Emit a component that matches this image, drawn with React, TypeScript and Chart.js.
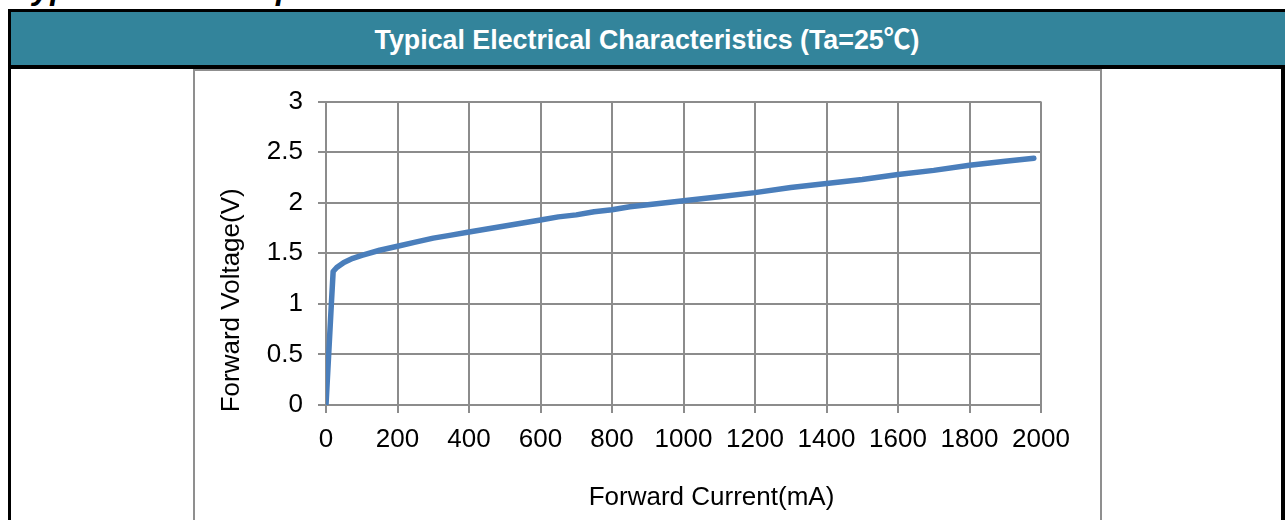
import React, { useEffect, useRef } from "react";
import { Chart, registerables } from "chart.js";

Chart.register(...registerables);

// Data
const currentMA: number[] = [
  0, 15, 20, 30, 50, 75, 100, 150, 200, 250, 300, 350, 400, 450, 500, 550, 600, 650,
  700, 750, 800, 850, 900, 950, 1000, 1100, 1200, 1300, 1400, 1500, 1600, 1700, 1800,
  1900, 1980,
];
const forwardVoltage: number[] = [
  0, 1.0, 1.32, 1.36, 1.41, 1.45, 1.48, 1.53, 1.57, 1.61, 1.65, 1.68, 1.71, 1.74, 1.77,
  1.8, 1.83, 1.86, 1.88, 1.91, 1.93, 1.96, 1.98, 2.0, 2.02, 2.06, 2.1, 2.15, 2.19, 2.23,
  2.28, 2.32, 2.37, 2.41, 2.44,
];
const xTicks: number[] = [0, 200, 400, 600, 800, 1000, 1200, 1400, 1600, 1800, 2000];
const yTicks: number[] = [0, 0.5, 1, 1.5, 2, 2.5, 3];

const headerTitle = "Typical Electrical Characteristics (Ta=25℃)";
const pageHeading = "Typical Electro-Optical Characteristics Curves";
const xTitle = "Forward Current(mA)";
const yTitle = "Forward Voltage(V)";

const FONT = '"Liberation Sans", Arial, "Noto Sans CJK SC", sans-serif';

export default function App() {
  const canvasRef = useRef<HTMLCanvasElement | null>(null);

  useEffect(() => {
    const canvas = canvasRef.current;
    if (!canvas) return;

    const titlesPlugin = {
      id: "axisTitlesCustom",
      afterDraw(chart: any) {
        const { ctx, chartArea } = chart;
        ctx.save();
        ctx.fillStyle = "#000";
        ctx.font = `26px ${FONT}`;
        ctx.textAlign = "center";
        ctx.textBaseline = "middle";
        ctx.fillText(xTitle, (chartArea.left + chartArea.right) / 2 + 28, chartArea.bottom + 93);
        ctx.translate(chartArea.left - 94, (chartArea.top + chartArea.bottom) / 2 + 47);
        ctx.rotate(-Math.PI / 2);
        ctx.fillText(yTitle, 0, 0);
        ctx.restore();
      },
    };

    const chart = new Chart(canvas, {
      type: "line",
      data: {
        datasets: [
          {
            data: currentMA.map((c, i) => ({ x: c, y: forwardVoltage[i] })),
            borderColor: "#4a7ebb",
            borderWidth: 5.5,
            pointRadius: 0,
            tension: 0,
            borderCapStyle: "round",
            borderJoinStyle: "round",
            fill: false,
          },
        ],
      },
      options: {
        animation: false,
        responsive: false,
        devicePixelRatio: 1,
        layout: { padding: { top: 28, right: 59, left: 0, bottom: 0 } },
        plugins: { legend: { display: false }, tooltip: { enabled: false } },
        scales: {
          x: {
            type: "linear",
            min: 0,
            max: 2000,
            afterBuildTicks: (scale: any) => {
              scale.ticks = xTicks.map((v) => ({ value: v }));
            },
            afterFit: (scale: any) => {
              scale.height = 115;
            },
            grid: { color: "#8c8c8c", lineWidth: 2, tickLength: 8, drawTicks: true },
            border: { display: false },
            ticks: {
              color: "#000",
              font: { family: FONT, size: 26 },
              padding: 11,
              maxRotation: 0,
              autoSkip: false,
              callback: (v: any) => String(v),
            },
          },
          y: {
            type: "linear",
            min: 0,
            max: 3,
            afterBuildTicks: (scale: any) => {
              scale.ticks = yTicks.map((v) => ({ value: v }));
            },
            afterFit: (scale: any) => {
              scale.width = 131;
            },
            grid: { color: "#8c8c8c", lineWidth: 2, tickLength: 8, drawTicks: true },
            border: { display: false },
            ticks: {
              color: "#000",
              font: { family: FONT, size: 26 },
              padding: 15,
              autoSkip: false,
              callback: (v: any) => String(v),
            },
          },
        },
      },
      plugins: [titlesPlugin],
    } as any);

    return () => chart.destroy();
  }, []);

  return (
    <div
      style={{
        position: "fixed",
        left: 0,
        top: 0,
        width: 1285,
        height: 520,
        overflow: "hidden",
        background: "#fff",
        fontFamily: FONT,
      }}
    >
      {/* cut-off page heading */}
      <div style={{ position: "absolute", left: 0, top: 0, width: 1285, height: 9, overflow: "hidden" }}>
        <div
          style={{
            position: "absolute",
            left: 14,
            top: -28,
            fontSize: 32,
            lineHeight: "32px",
            fontWeight: "bold",
            fontStyle: "italic",
            whiteSpace: "nowrap",
            color: "#000",
          }}
        >
          {pageHeading}
        </div>
      </div>
      {/* black frame */}
      <div style={{ position: "absolute", left: 8, top: 9, width: 1277, height: 3, background: "#000" }} />
      <div style={{ position: "absolute", left: 8, top: 9, width: 3, height: 511, background: "#000" }} />
      <div style={{ position: "absolute", left: 1281, top: 65, width: 4, height: 455, background: "#000" }} />
      {/* teal header */}
      <div
        style={{
          position: "absolute",
          left: 11,
          top: 12,
          width: 1274,
          height: 53,
          background: "#33849b",
          color: "#fff",
          fontWeight: "bold",
          fontSize: 26.8,
          display: "flex",
          alignItems: "center",
          justifyContent: "center",
        }}
      >
        <span style={{ position: "relative", left: -1, top: -1 }}>{headerTitle}</span>
      </div>
      <div style={{ position: "absolute", left: 8, top: 65, width: 1277, height: 4, background: "#000" }} />
      {/* chart box */}
      <div
        style={{
          position: "absolute",
          left: 193,
          top: 69,
          width: 905,
          height: 460,
          border: "2px solid #8f8f8f",
        }}
      />
      <canvas
        ref={canvasRef}
        width={905}
        height={449}
        style={{ position: "absolute", left: 195, top: 71, width: 905, height: 449 }}
      />
    </div>
  );
}
